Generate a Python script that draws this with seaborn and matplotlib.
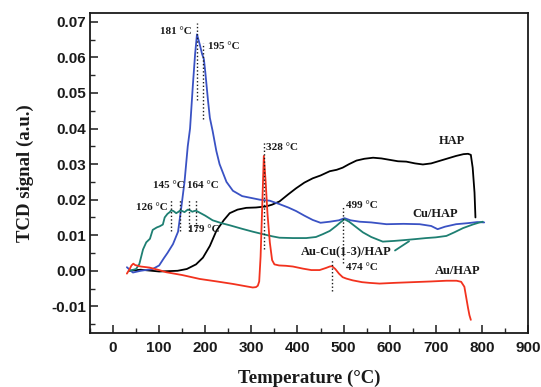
import numpy as np
import pandas as pd
import matplotlib
matplotlib.use('Agg')
import matplotlib.pyplot as plt
from matplotlib.ticker import MultipleLocator
import seaborn as sns

# HAP (black)
hap_t = [35, 60, 100, 140, 160, 180, 195, 210, 224, 240, 253, 270, 289, 310, 332, 345, 361, 380,
         397, 415, 433, 450, 470, 485, 498, 512, 528, 545, 564, 582, 600, 618, 636, 655, 672, 690,
         708, 726, 744, 760, 770, 776, 780, 784, 786]
hap_y = [0.0, 0.0003, -0.0002, 0.0, 0.0005, 0.0018, 0.0037, 0.0070, 0.0112, 0.0142, 0.0162, 0.0172,
         0.0177, 0.0178, 0.0181, 0.0186, 0.0195, 0.0215, 0.0232, 0.0248, 0.0260, 0.0268, 0.0280,
         0.0284, 0.0290, 0.0300, 0.0310, 0.0315, 0.0318, 0.0316, 0.0312, 0.0308, 0.0307, 0.0302,
         0.0299, 0.0302, 0.0309, 0.0316, 0.0323, 0.0328, 0.0329, 0.0326, 0.0290, 0.0220, 0.0150]

# Cu/HAP (blue)
cu_t = [30, 43, 60, 86, 100, 110, 118, 130, 141, 148, 155, 162, 167, 173, 178, 182, 188, 193, 197,
        200, 206, 210, 216, 224, 231, 246, 260, 280, 318, 340, 360, 380, 397, 415, 433, 450, 470,
        490, 502, 515, 535, 560, 593, 630, 665, 690, 704, 720, 744, 770, 790, 805]
cu_y = [0.001, -0.0005, 0.0, 0.0005, 0.0015, 0.0035, 0.005, 0.0075, 0.011, 0.0178, 0.025, 0.035,
        0.040, 0.052, 0.061, 0.0665, 0.0637, 0.061, 0.0595, 0.056, 0.0478, 0.043, 0.0393, 0.0337,
        0.030, 0.025, 0.0225, 0.021, 0.0200, 0.0197, 0.0188, 0.0178, 0.0168, 0.0155, 0.0143,
        0.0135, 0.0138, 0.0142, 0.0148, 0.0142, 0.0138, 0.0136, 0.0131, 0.0132, 0.0131, 0.0126,
        0.0117, 0.0124, 0.0131, 0.0134, 0.0137, 0.0136]

# Au-Cu(1-3)/HAP (teal)
aucu_t = [36, 50, 57, 65, 72, 80, 86, 95, 101, 108, 112, 118, 123, 126, 131, 137, 142, 146, 150,
          155, 159, 162, 167, 172, 176, 180, 190, 200, 216, 235, 253, 280, 303, 325, 345, 361,
          390, 419, 440, 455, 470, 484, 493, 502, 512, 528, 542, 560, 585, 610, 629, 655, 679,
          700, 723, 740, 759, 780, 795, 802]
aucu_y = [0.0, 0.0005, 0.0019, 0.0060, 0.0080, 0.0090, 0.0115, 0.0122, 0.0125, 0.0130, 0.0150,
          0.0160, 0.0165, 0.0170, 0.0168, 0.0162, 0.0166, 0.0170, 0.0168, 0.0165, 0.0169, 0.0172,
          0.0170, 0.0166, 0.0168, 0.0169, 0.0162, 0.0155, 0.0142, 0.0134, 0.0128, 0.0118, 0.0110,
          0.0103, 0.0097, 0.0093, 0.0092, 0.0092, 0.0095, 0.0103, 0.0112, 0.0126, 0.0136, 0.0145,
          0.0138, 0.0122, 0.0108, 0.0095, 0.0082, 0.0084, 0.0086, 0.0089, 0.0092, 0.0094, 0.0098,
          0.0108, 0.0120, 0.0130, 0.0136, 0.0138]

# Au/HAP (red)
au_t = [30, 36, 40, 44, 48, 60, 79, 100, 115, 150, 188, 225, 260, 290, 303, 310, 314, 317, 320,
        323, 327, 331, 335, 340, 345, 350, 360, 375, 390, 412, 430, 448, 462, 470, 475, 482, 490,
        498, 506, 520, 540, 556, 578, 610, 650, 690, 723, 745, 755, 762, 766, 770, 773, 776]
au_y = [-0.0008, 0.0005, 0.0015, 0.0020, 0.0016, 0.0012, 0.0009, 0.0002, -0.0004, -0.0012,
        -0.0023, -0.0030, -0.0037, -0.0044, -0.0047, -0.0046, -0.0042, -0.0030, 0.004, 0.016,
        0.0323, 0.025, 0.016, 0.008, 0.003, 0.0018, 0.0015, 0.0014, 0.0012, 0.0006, 0.0002,
        0.0002, 0.0008, 0.0012, 0.0013, 0.0005, -0.0008, -0.0018, -0.0022, -0.0027, -0.0032,
        -0.0034, -0.0036, -0.0034, -0.0032, -0.0030, -0.0028, -0.0028, -0.0031, -0.0045,
        -0.0075, -0.0105, -0.0125, -0.0138]

# peak markers: temperature, line bottom, line top
peaks_t = [181, 195, 328, 126, 145, 164, 179, 499, 474]
peaks_lo = [0.048, 0.0426, 0.0061, 0.0112, 0.0112, 0.0112, 0.0112, 0.0023, -0.0056]
peaks_hi = [0.0698, 0.0641, 0.0365, 0.0201, 0.0201, 0.0201, 0.0201, 0.0178, 0.0033]

sns.set_theme(style='ticks')
plt.rcParams['font.family'] = ['Liberation Sans', 'DejaVu Sans']

c_black = '#000000'
c_blue = '#3a52c4'
c_teal = '#1e7f72'
c_red = '#f2321e'

fig = plt.figure(figsize=(5.41, 3.87), dpi=100)
ax = fig.add_axes([90/541, 1-333/387, 438/541, 320/387])

for t, y, c in [(hap_t, hap_y, c_black), (cu_t, cu_y, c_blue),
                (aucu_t, aucu_y, c_teal), (au_t, au_y, c_red)]:
    sns.lineplot(x=t, y=y, ax=ax, color=c, lw=1.3, sort=False, estimator=None)

for t, lo, hi in zip(peaks_t, peaks_lo, peaks_hi):
    ax.vlines(t, lo, hi, colors='k', linestyles=(0, (1, 1.6)), lw=1.0)

serif = dict(family=['Liberation Serif', 'DejaVu Serif'], fontweight='bold', color='k')
ann = dict(fontsize=8, va='center', **serif)
ax.text(170, 0.0674, '181 °C', ha='right', **ann)
ax.text(206, 0.0632, '195 °C', ha='left', **ann)
ax.text(332, 0.0348, '328 °C', ha='left', **ann)
ax.text(155, 0.0239, '145 °C', ha='right', **ann)
ax.text(161, 0.0239, '164 °C', ha='left', **ann)
ax.text(119, 0.0178, '126 °C', ha='right', **ann)
ax.text(162, 0.0115, '179 °C', ha='left', **ann)
ax.text(505, 0.0185, '499 °C', ha='left', **ann)
ax.text(506, 0.0008, '474 °C', ha='left', **ann)

lab = dict(fontsize=9, va='center', ha='center', **serif)
ax.text(736, 0.0365, 'HAP', **lab)
ax.text(699, 0.0159, 'Cu/HAP', **lab)
ax.text(747, 0.0, 'Au/HAP', **lab)
ax.annotate('Au-Cu(1-3)/HAP', xy=(642, 0.0083), xytext=(506, 0.0051),
            arrowprops=dict(arrowstyle='-', color=c_teal, lw=1.3, relpos=(1, 0.5),
                            shrinkA=0, shrinkB=0),
            **lab)

ax.set_xlim(-50, 900)
ax.set_ylim(-0.0175, 0.0725)
ax.xaxis.set_minor_locator(MultipleLocator(50))
ax.yaxis.set_minor_locator(MultipleLocator(0.005))
ax.set_xticks(np.arange(0, 901, 100))
ax.set_yticks(np.arange(-0.01, 0.0701, 0.01))
ax.set_yticklabels(['-0.01', '0.00', '0.01', '0.02', '0.03', '0.04', '0.05', '0.06', '0.07'])
ax.tick_params(which='major', direction='in', length=6, width=1.1, labelsize=11, colors='k')
ax.tick_params(axis='x', which='major', pad=6)
ax.tick_params(axis='y', which='major', pad=3)
ax.tick_params(which='minor', direction='in', length=3.5, width=1.0)
for t in ax.get_xticklabels() + ax.get_yticklabels():
    t.set_fontweight('bold')
for s in ax.spines.values():
    s.set_linewidth(1.3)
    s.set_color('k')

ax.set_xlabel('Temperature (°C)', fontsize=13.5, labelpad=10, **serif)
ax.set_ylabel('TCD signal (a.u.)', fontsize=13.5, labelpad=12, **serif)

fig.savefig('out.png', dpi=100)
plt.close(fig)
